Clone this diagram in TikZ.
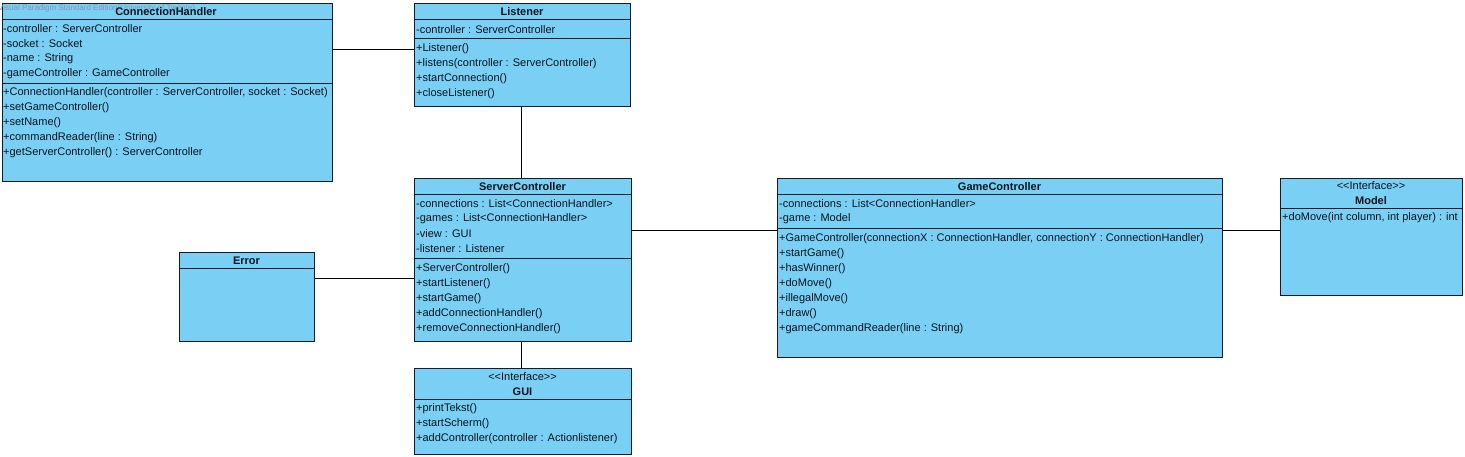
\documentclass[tikz,border=0pt]{standalone}
\usepackage{fontspec}
\setmainfont{Liberation Sans}
\definecolor{fillcol}{RGB}{122,207,245}
\definecolor{linecol}{RGB}{18,28,40}
\definecolor{txtcol}{RGB}{10,20,30}
\definecolor{wmcol}{RGB}{135,150,168}
\begin{document}
\begin{tikzpicture}[x=1pt,y=-1pt,
  cls/.style={draw=linecol, fill=fillcol, line width=0.9pt, inner sep=0pt, anchor=north west},
  sepline/.style={draw=linecol, line width=0.9pt},
  conn/.style={draw=black, line width=0.9pt},
  mem/.style={anchor=west, inner sep=0pt, yshift=-0.8pt, text=txtcol, font=\fontsize{11}{12}\selectfont},
  ttl/.style={anchor=center, inner sep=0pt, yshift=-0.8pt, text=txtcol, font=\fontsize{11}{12}\selectfont\bfseries},
  stereo/.style={anchor=center, inner sep=0pt, yshift=-0.8pt, text=txtcol, font=\fontsize{11}{12}\selectfont},
  wm/.style={anchor=west, inner sep=0pt, text=wmcol, font=\fontsize{8}{9}\selectfont}]
\useasboundingbox (0,0) rectangle (1465,457);

% ConnectionHandler
\node[cls, minimum width=330pt, minimum height=178pt] (ch) at (2,3) {};
\draw[sepline] (ch.west |- 0,19) -- (ch.east |- 0,19);
\draw[sepline] (ch.west |- 0,83) -- (ch.east |- 0,83);
\node[wm] (wmk) at (-2,8) {Visual Paradigm Standard Edition(University of Twente)};
\node[ttl] (cht) at (166,11) {ConnectionHandler};
\node[mem] (ch1) at (3,28) {-controller : ServerController};
\node[mem] (ch2) at (3,43) {-socket : Socket};
\node[mem] (ch3) at (3,58) {-name : String};
\node[mem] (ch4) at (3,73) {-gameController : GameController};
\node[mem] (ch5) at (3,92) {+ConnectionHandler(controller : ServerController, socket : Socket)};
\node[mem] (ch6) at (3,107) {+setGameController()};
\node[mem] (ch7) at (3,122) {+setName()};
\node[mem] (ch8) at (3,137) {+commandReader(line : String)};
\node[mem] (ch9) at (3,152) {+getServerController() : ServerController};

% Listener
\node[cls, minimum width=216pt, minimum height=103pt] (lis) at (414,3) {};
\draw[sepline] (lis.west |- 0,19) -- (lis.east |- 0,19);
\draw[sepline] (lis.west |- 0,38) -- (lis.east |- 0,38);
\node[ttl] (list) at (522,11) {Listener};
\node[mem] (lis1) at (416,29) {-controller : ServerController};
\node[mem] (lis2) at (416,48) {+Listener()};
\node[mem] (lis3) at (416,63) {+listens(controller : ServerController)};
\node[mem] (lis4) at (416,78) {+startConnection()};
\node[mem] (lis5) at (416,93) {+closeListener()};

% ServerController
\node[cls, minimum width=217pt, minimum height=163pt] (sc) at (414,178) {};
\draw[sepline] (sc.west |- 0,194) -- (sc.east |- 0,194);
\draw[sepline] (sc.west |- 0,258) -- (sc.east |- 0,258);
\node[ttl] (sct) at (522.5,186) {ServerController};
\node[mem] (sc1) at (416,203) {-connections : List<ConnectionHandler>};
\node[mem] (sc2) at (416,218) {-games : List<ConnectionHandler>};
\node[mem] (sc3) at (416,233) {-view : GUI};
\node[mem] (sc4) at (416,248) {-listener : Listener};
\node[mem] (sc5) at (416,268) {+ServerController()};
\node[mem] (sc6) at (416,283) {+startListener()};
\node[mem] (sc7) at (416,298) {+startGame()};
\node[mem] (sc8) at (416,313) {+addConnectionHandler()};
\node[mem] (sc9) at (416,328) {+removeConnectionHandler()};

% Error
\node[cls, minimum width=135pt, minimum height=89pt] (err) at (179,252) {};
\draw[sepline] (err.west |- 0,268) -- (err.east |- 0,268);
\node[ttl] (errt) at (246.5,260) {Error};

% GUI
\node[cls, minimum width=217pt, minimum height=86pt] (gui) at (414,368) {};
\draw[sepline] (gui.west |- 0,399) -- (gui.east |- 0,399);
\node[stereo] (guis) at (522.5,376) {<{}<Interface>{}>};
\node[ttl] (guit) at (522.5,391) {GUI};
\node[mem] (gui1) at (416,408) {+printTekst()};
\node[mem] (gui2) at (416,423) {+startScherm()};
\node[mem] (gui3) at (416,438) {+addController(controller : Actionlistener)};

% GameController
\node[cls, minimum width=445pt, minimum height=179pt] (gc) at (777,178) {};
\draw[sepline] (gc.west |- 0,194) -- (gc.east |- 0,194);
\draw[sepline] (gc.west |- 0,228) -- (gc.east |- 0,228);
\node[ttl] (gct) at (999.5,186) {GameController};
\node[mem] (gc1) at (779,203) {-connections : List<ConnectionHandler>};
\node[mem] (gc2) at (779,218) {-game : Model};
\node[mem] (gc3) at (779,238) {+GameController(connectionX : ConnectionHandler, connectionY : ConnectionHandler)};
\node[mem] (gc4) at (779,253) {+startGame()};
\node[mem] (gc5) at (779,268) {+hasWinner()};
\node[mem] (gc6) at (779,283) {+doMove()};
\node[mem] (gc7) at (779,298) {+illegalMove()};
\node[mem] (gc8) at (779,313) {+draw()};
\node[mem] (gc9) at (779,328) {+gameCommandReader(line : String)};

% Model
\node[cls, minimum width=182pt, minimum height=117pt] (mod) at (1280,178) {};
\draw[sepline] (mod.west |- 0,208) -- (mod.east |- 0,208);
\node[stereo] (mods) at (1371,185) {<{}<Interface>{}>};
\node[ttl] (modt) at (1371,200) {Model};
\node[mem] (mod1) at (1282,217) {+doMove(int column, int player) : int};

% Connectors
\draw[conn] (ch.east |- 0,49) -- (lis.west |- 0,49);
\draw[conn] (lis.south -| 521,0) -- (sc.north -| 521,0);
\draw[conn] (err.east |- 0,278) -- (sc.west |- 0,278);
\draw[conn] (sc.east |- 0,230) -- (gc.west |- 0,230);
\draw[conn] (sc.south -| 521,0) -- (gui.north -| 521,0);
\draw[conn] (gc.east |- 0,230) -- (mod.west |- 0,230);
\end{tikzpicture}
\end{document}
